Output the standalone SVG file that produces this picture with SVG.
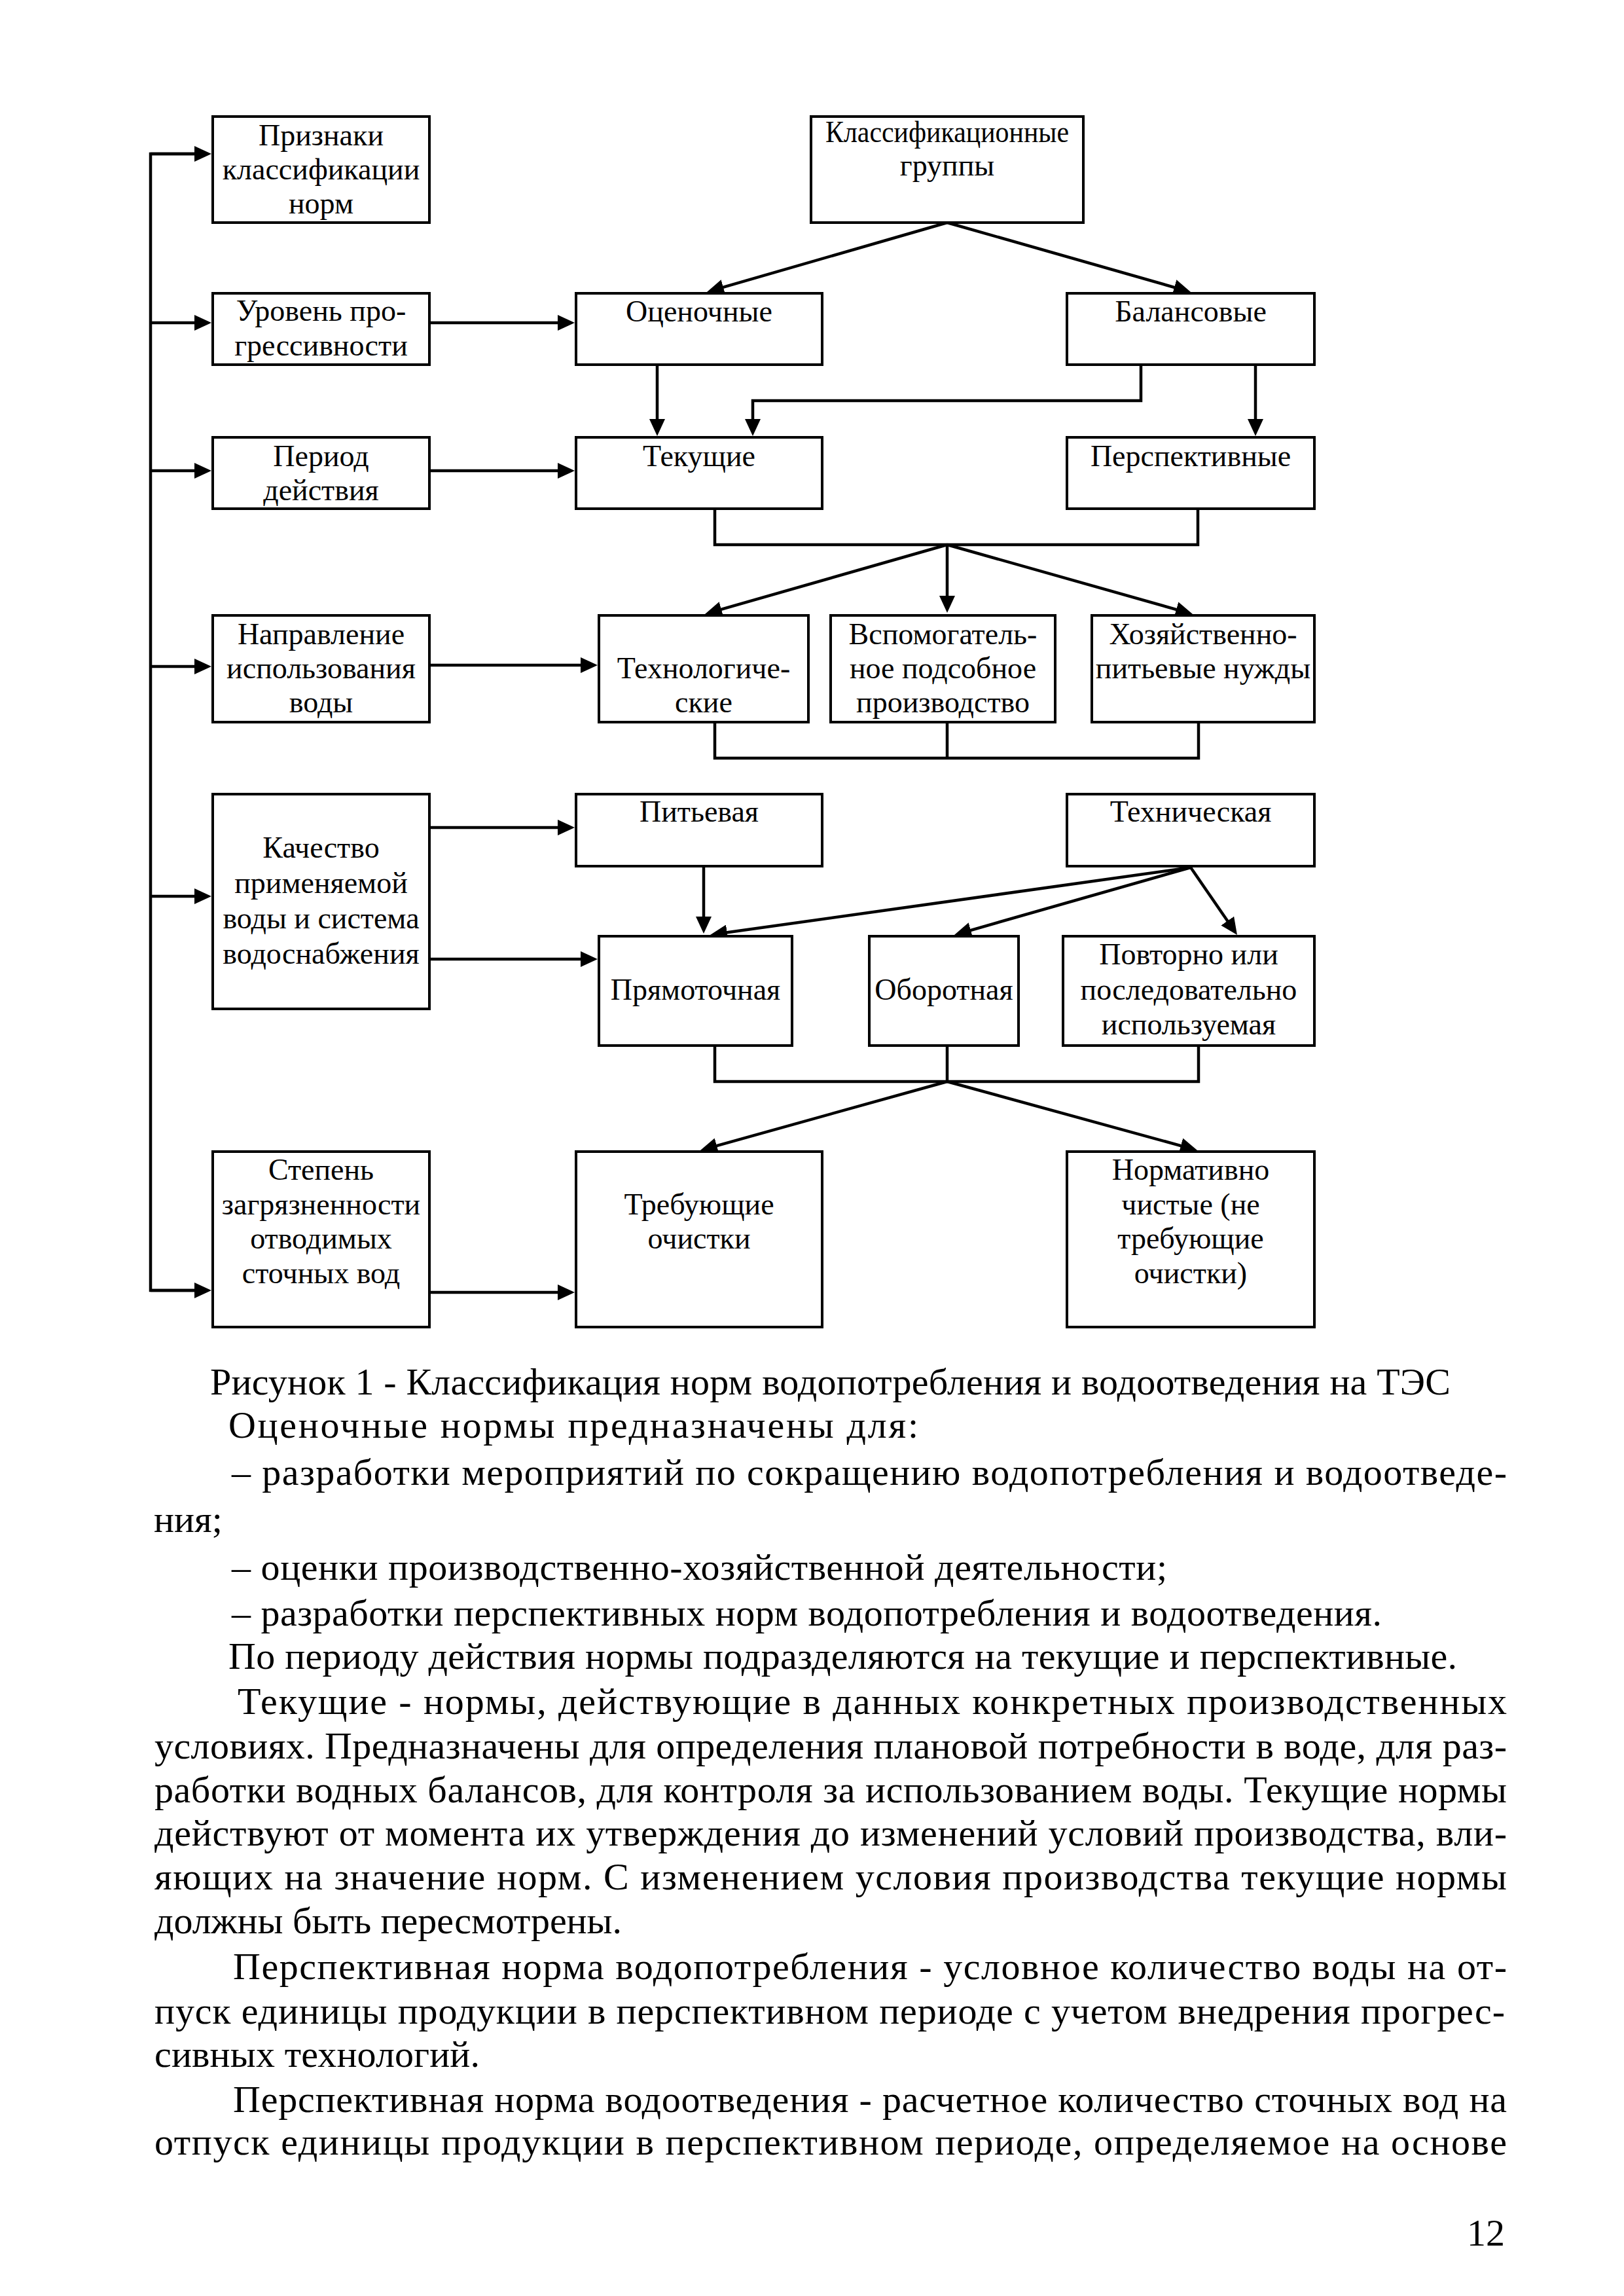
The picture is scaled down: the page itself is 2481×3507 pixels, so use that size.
<svg xmlns="http://www.w3.org/2000/svg" width="2481" height="3507" viewBox="0 0 2481 3507">
<style>
.box{fill:#fff;stroke:#000;stroke-width:4}
.t{font-family:"Liberation Serif","Times New Roman",serif;font-size:46px;text-anchor:middle;fill:#000}
.b{font-family:"Liberation Serif","Times New Roman",serif;font-size:58px;fill:#000}
.c{fill:none;stroke:#000;stroke-width:4.5}
.a{fill:none;stroke:#000;stroke-width:4.5;marker-end:url(#ah)}
</style>
<defs>
<marker id="ah" markerUnits="userSpaceOnUse" markerWidth="26" markerHeight="24" viewBox="0 0 26 24" refX="16" refY="12" orient="auto">
<path d="M0,0 L26,12 L0,24 z" fill="#000"/>
</marker>
</defs>
<rect x="0" y="0" width="2481" height="3507" fill="#fff"/>

<g id="connectors">
<polyline class="c" points="313,235 230,235 230,1971 313,1971"/>
<line class="a" x1="230" y1="235" x2="313" y2="235"/>
<line class="a" x1="230" y1="493" x2="313" y2="493"/>
<line class="a" x1="230" y1="719" x2="313" y2="719"/>
<line class="a" x1="230" y1="1018" x2="313" y2="1018"/>
<line class="a" x1="230" y1="1369" x2="313" y2="1369"/>
<line class="a" x1="230" y1="1971" x2="313" y2="1971"/>
<line class="a" x1="656" y1="493" x2="868" y2="493"/>
<line class="a" x1="656" y1="719" x2="868" y2="719"/>
<line class="a" x1="656" y1="1016" x2="903" y2="1016"/>
<line class="a" x1="656" y1="1264" x2="868" y2="1264"/>
<line class="a" x1="656" y1="1465" x2="903" y2="1465"/>
<line class="a" x1="656" y1="1974" x2="868" y2="1974"/>
<line class="a" x1="1447" y1="340" x2="1089.6" y2="443.2"/>
<line class="a" x1="1447" y1="340" x2="1809.4" y2="443.3"/>
<line class="a" x1="1004" y1="557" x2="1004" y2="656"/>
<polyline class="a" points="1743,557 1743,612 1150,612 1150,656"/>
<line class="a" x1="1918" y1="557" x2="1918" y2="656"/>
<polyline class="c" points="1092,777 1092,832 1830,832 1830,777"/>
<line class="a" x1="1447" y1="832" x2="1086.6" y2="935.2"/>
<line class="a" x1="1447" y1="832" x2="1447" y2="926"/>
<line class="a" x1="1447" y1="832" x2="1812.4" y2="935.3"/>
<polyline class="c" points="1092,1103 1092,1158 1831,1158 1831,1103"/>
<line class="c" x1="1447" y1="1103" x2="1447" y2="1158"/>
<line class="a" x1="1075" y1="1323" x2="1075" y2="1416"/>
<line class="a" x1="1819" y1="1325" x2="1094.9" y2="1426.6"/>
<line class="a" x1="1819" y1="1325" x2="1467.6" y2="1425.3"/>
<line class="a" x1="1819" y1="1325" x2="1884.3" y2="1419.8"/>
<polyline class="c" points="1092,1597 1092,1652 1831,1652 1831,1597"/>
<line class="c" x1="1447" y1="1597" x2="1447" y2="1652"/>
<line class="a" x1="1447" y1="1652" x2="1079.6" y2="1754.3"/>
<line class="a" x1="1447" y1="1652" x2="1819.4" y2="1754.3"/>
</g>

<g id="n-priznaki">
<rect class="box" x="325" y="178" width="331" height="162"/>
<text class="t" x="490.5" y="222">Признаки</text>
<text class="t" x="490.5" y="274">классификации</text>
<text class="t" x="490.5" y="326">норм</text>
</g>
<g id="n-uroven">
<rect class="box" x="325" y="448" width="331" height="109"/>
<text class="t" x="490.5" y="490">Уровень про-</text>
<text class="t" x="490.5" y="543">грессивности</text>
</g>
<g id="n-period">
<rect class="box" x="325" y="668" width="331" height="109"/>
<text class="t" x="490.5" y="712">Период</text>
<text class="t" x="490.5" y="764">действия</text>
</g>
<g id="n-napravlenie">
<rect class="box" x="325" y="940" width="331" height="163"/>
<text class="t" x="490.5" y="984">Направление</text>
<text class="t" x="490.5" y="1036">использования</text>
<text class="t" x="490.5" y="1088">воды</text>
</g>
<g id="n-kachestvo">
<rect class="box" x="325" y="1213" width="331" height="328"/>
<text class="t" x="490.5" y="1310">Качество</text>
<text class="t" x="490.5" y="1364">применяемой</text>
<text class="t" x="490.5" y="1418">воды и система</text>
<text class="t" x="490.5" y="1472">водоснабжения</text>
</g>
<g id="n-stepen">
<rect class="box" x="325" y="1759" width="331" height="268"/>
<text class="t" x="490.5" y="1802">Степень</text>
<text class="t" x="490.5" y="1855">загрязненности</text>
<text class="t" x="490.5" y="1907">отводимых</text>
<text class="t" x="490.5" y="1960">сточных вод</text>
</g>
<g id="n-klass">
<rect class="box" x="1239" y="178" width="416" height="162"/>
<text class="t" x="1447" y="217" textLength="372" lengthAdjust="spacingAndGlyphs">Классификационные</text>
<text class="t" x="1447" y="268">группы</text>
</g>
<g id="n-ocenochnye">
<rect class="box" x="880" y="448" width="376" height="109"/>
<text class="t" x="1068" y="491">Оценочные</text>
</g>
<g id="n-balansovye">
<rect class="box" x="1630" y="448" width="378" height="109"/>
<text class="t" x="1819" y="491">Балансовые</text>
</g>
<g id="n-tekushie">
<rect class="box" x="880" y="668" width="376" height="109"/>
<text class="t" x="1068" y="712">Текущие</text>
</g>
<g id="n-perspektivnye">
<rect class="box" x="1630" y="668" width="378" height="109"/>
<text class="t" x="1819" y="712">Перспективные</text>
</g>
<g id="n-tehnolog">
<rect class="box" x="915" y="940" width="320" height="163"/>
<text class="t" x="1075" y="1036">Технологиче-</text>
<text class="t" x="1075" y="1088">ские</text>
</g>
<g id="n-vspomog">
<rect class="box" x="1269" y="940" width="343" height="163"/>
<text class="t" x="1440.5" y="984">Вспомогатель-</text>
<text class="t" x="1440.5" y="1036">ное подсобное</text>
<text class="t" x="1440.5" y="1088">производство</text>
</g>
<g id="n-hoz">
<rect class="box" x="1668" y="940" width="340" height="163"/>
<text class="t" x="1838" y="984">Хозяйственно-</text>
<text class="t" x="1838" y="1036">питьевые нужды</text>
</g>
<g id="n-pitevaya">
<rect class="box" x="880" y="1213" width="376" height="110"/>
<text class="t" x="1068" y="1255">Питьевая</text>
</g>
<g id="n-tehnicheskaya">
<rect class="box" x="1630" y="1213" width="378" height="110"/>
<text class="t" x="1819" y="1255">Техническая</text>
</g>
<g id="n-pryamotochnaya">
<rect class="box" x="915" y="1430" width="295" height="167"/>
<text class="t" x="1062.5" y="1527">Прямоточная</text>
</g>
<g id="n-oborotnaya">
<rect class="box" x="1328" y="1430" width="228" height="167"/>
<text class="t" x="1442" y="1527">Оборотная</text>
</g>
<g id="n-povtorno">
<rect class="box" x="1624" y="1430" width="384" height="167"/>
<text class="t" x="1816" y="1473">Повторно или</text>
<text class="t" x="1816" y="1527">последовательно</text>
<text class="t" x="1816" y="1580">используемая</text>
</g>
<g id="n-trebuyushie">
<rect class="box" x="880" y="1759" width="376" height="268"/>
<text class="t" x="1068" y="1855">Требующие</text>
<text class="t" x="1068" y="1907">очистки</text>
</g>
<g id="n-normativno">
<rect class="box" x="1630" y="1759" width="378" height="268"/>
<text class="t" x="1819" y="1802">Нормативно</text>
<text class="t" x="1819" y="1855">чистые (не</text>
<text class="t" x="1819" y="1907">требующие</text>
<text class="t" x="1819" y="1960">очистки)</text>
</g>

<g id="body-text">
<text class="b" x="321" y="2130" textLength="1895" lengthAdjust="spacing">Рисунок 1 - Классификация норм водопотребления и водоотведения на ТЭС</text>
<text class="b" x="349" y="2196" textLength="1054" lengthAdjust="spacing">Оценочные нормы предназначены для:</text>
<text class="b" x="354" y="2268" textLength="1948" lengthAdjust="spacing">– разработки мероприятий по сокращению водопотребления и водоотведе-</text>
<text class="b" x="235" y="2340">ния;</text>
<text class="b" x="354" y="2413" textLength="1429" lengthAdjust="spacing">– оценки производственно-хозяйственной деятельности;</text>
<text class="b" x="354" y="2483" textLength="1757" lengthAdjust="spacing">– разработки перспективных норм водопотребления и водоотведения.</text>
<text class="b" x="349" y="2549" textLength="1877" lengthAdjust="spacing">По периоду действия нормы подразделяются на текущие и перспективные.</text>
<text class="b" x="363" y="2618" textLength="1939" lengthAdjust="spacing">Текущие - нормы, действующие в данных конкретных производственных</text>
<text class="b" x="236" y="2686" textLength="2066" lengthAdjust="spacing">условиях. Предназначены для определения плановой потребности в воде, для раз-</text>
<text class="b" x="236" y="2753" textLength="2066" lengthAdjust="spacing">работки водных балансов, для контроля за использованием воды. Текущие нормы</text>
<text class="b" x="236" y="2819" textLength="2066" lengthAdjust="spacing">действуют от момента их утверждения до изменений условий производства, вли-</text>
<text class="b" x="236" y="2886" textLength="2066" lengthAdjust="spacing">яющих на значение норм. С изменением условия производства текущие нормы</text>
<text class="b" x="236" y="2953" textLength="714" lengthAdjust="spacing">должны быть пересмотрены.</text>
<text class="b" x="356" y="3023" textLength="1946" lengthAdjust="spacing">Перспективная норма водопотребления - условное количество воды на от-</text>
<text class="b" x="236" y="3091" textLength="2063" lengthAdjust="spacing">пуск единицы продукции в перспективном периоде с учетом внедрения  прогрес-</text>
<text class="b" x="236" y="3157" textLength="497" lengthAdjust="spacing">сивных технологий.</text>
<text class="b" x="356" y="3226" textLength="1946" lengthAdjust="spacing">Перспективная норма водоотведения - расчетное количество сточных вод на</text>
<text class="b" x="236" y="3291" textLength="2066" lengthAdjust="spacing">отпуск единицы продукции в перспективном периоде, определяемое на основе</text>
<text class="b" x="2299" y="3430" text-anchor="end">12</text>
</g>
</svg>
